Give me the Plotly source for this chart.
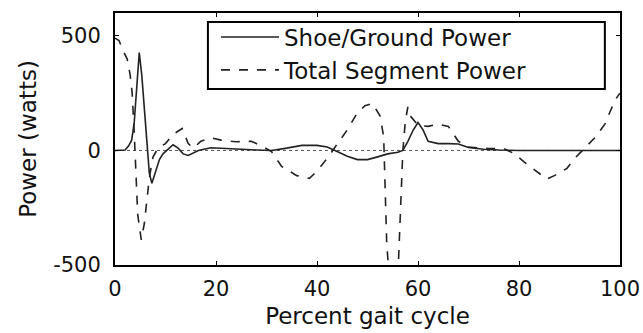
import plotly.graph_objects as go

# Shoe/Ground Power (solid)
shoe_x = [0, 1, 2, 2.7, 3.3, 3.8, 4.3, 4.8, 5.3, 5.8, 6.3, 6.8, 7.3, 8, 8.8, 9.5, 10.5, 11.5, 12.5,
          13.5, 14.5, 16.5, 19, 22, 25, 28, 31, 34, 37, 40, 42, 44, 46, 48, 50, 52, 54, 56, 57,
          58, 59, 60, 61, 62, 64, 66, 68, 70, 73, 76, 80, 90, 100]
shoe_y = [0, 0, 2, 20, 45, 120, 300, 427, 330, 180, 20, -100, -143, -90, -40, -15, 5, 25, 10,
          -15, -22, 0, 12, 10, 5, 2, 0, 10, 22, 22, 15, -5, -25, -40, -40, -28, -15, -8, 0,
          40, 87, 122, 90, 40, 30, 30, 28, 13, 5, 2, 0, 0, 0]

# Total Segment Power (dashed)
seg_x = [0, 0.8, 1.5, 2.4, 3, 3.4, 3.8, 4.1, 4.5, 5.2, 5.8, 6.3, 6.8, 7.5, 8.5, 10, 11.5, 13.3,
         14.5, 15.5, 17, 19, 21, 24, 27, 29, 31, 33, 36, 38.5, 40, 42, 44, 46, 48, 49.5, 51,
         52.5, 53.2, 53.8, 54.5, 55.3, 56, 56.5, 57, 57.5, 58, 58.5, 60, 62, 64, 66, 68, 70,
         74, 77, 79, 81, 84, 85.5, 87, 89.5, 91, 93, 95, 97, 99, 100]
seg_y = [490, 480, 440, 400, 330, 250, 80, -100, -280, -390, -320, -220, -120, -30, 10, 30, 70, 96,
         30, 10, 40, 55, 45, 38, 40, 20, -5, -70, -110, -122, -90, -35, 30, 90, 165, 195, 205,
         150, 60, -400, -620, -650, -560, -300, 0, 130, 190, 150, 110, 105, 115, 105, 40, 15,
         8, 8, -13, -50, -100, -125, -110, -78, -35, 10, 55, 115, 220, 250]

# zero reference
zero_x = [0, 100]
zero_y = [0, 0]

x_ticks = [0, 20, 40, 60, 80, 100]
y_ticks = [-500, 0, 500]
y_ticktext = ["-500", "0", "500"]

FONT = "DejaVu Sans, sans-serif"

fig = go.Figure()
fig.add_trace(go.Scatter(x=zero_x, y=zero_y, mode="lines", showlegend=False,
                         line=dict(color="#555", width=1, dash="dot")))
fig.add_trace(go.Scatter(x=shoe_x, y=shoe_y, mode="lines", name="Shoe/Ground Power",
                         line=dict(color="#222", width=1.6)))
fig.add_trace(go.Scatter(x=seg_x, y=seg_y, mode="lines", name="Total Segment Power",
                         line=dict(color="#222", width=1.6, dash="dash")))

# legend frame
fig.add_shape(type="rect", xref="paper", yref="paper", x0=0.184, x1=0.970, y0=0.698, y1=0.964,
              line=dict(color="black", width=2), fillcolor="white", layer="above")

fig.update_layout(
    width=643, height=333,
    margin=dict(l=115, r=23, t=13, b=68),
    paper_bgcolor="white", plot_bgcolor="white",
    font=dict(family=FONT, color="#111", size=21),
    legend=dict(x=0.2, y=0.99, xanchor="left", yanchor="top",
                borderwidth=0, bgcolor="rgba(0,0,0,0)",
                font=dict(size=23, family=FONT, color="#111"),
                tracegroupgap=0, itemwidth=58),
)
fig.update_xaxes(range=[0, 100], tickvals=x_ticks, ticks="inside", ticklen=4, tickcolor="black",
                 showline=True, linecolor="black", linewidth=2, mirror="ticks", showgrid=False,
                 zeroline=False, tickfont=dict(size=21), ticklabelstandoff=4, automargin=False,
                 title=dict(text="Percent gait cycle", font=dict(size=23), standoff=8))
fig.update_yaxes(range=[-500, 600], tickvals=y_ticks, ticktext=y_ticktext, ticks="inside",
                 ticklen=4, tickcolor="black",
                 showline=True, linecolor="black", linewidth=2, mirror="ticks", showgrid=False,
                 zeroline=False, tickfont=dict(size=21), ticklabelstandoff=8, automargin=False,
                 title=dict(text="Power (watts)", font=dict(size=23), standoff=10))

fig.write_html("out.html")
